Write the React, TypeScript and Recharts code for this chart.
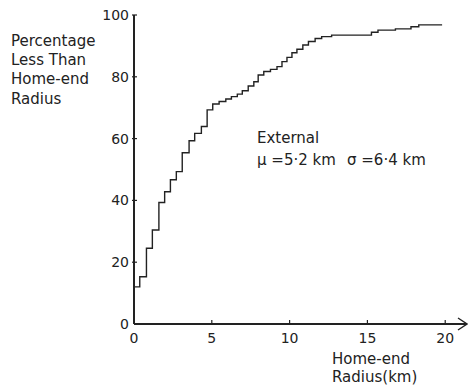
import { Line, LineChart, ReferenceDot, XAxis, YAxis } from "recharts";

// step points of the cumulative curve (km, %)
const radiusKm = [
  0, 0.37, 0.8, 1.18, 1.6, 1.97, 2.34, 2.72, 3.1, 3.54, 3.9, 4.33, 4.7, 5.06,
  5.47, 5.9, 6.26, 6.64, 6.96, 7.34, 7.7, 7.98, 8.34, 8.77, 9.19, 9.51, 9.83,
  10.15, 10.47, 10.85, 11.21, 11.64, 12.06, 12.7, 15.26, 15.68, 16.8, 17.8,
  18.3, 19.8,
];
const percentLess = [
  12, 15.3, 24.5, 30.4, 39.3, 42.8, 46.7, 49.3, 55.4, 59.3, 61.7, 63.9, 69.3,
  71.2, 72, 72.8, 73.6, 74.4, 75.5, 77, 78.4, 80.6, 81.7, 82.4, 83.3, 84.9,
  86.3, 87.8, 88.9, 90.3, 91.4, 92.4, 93, 93.5, 94.4, 95.1, 95.5, 96.2, 96.8,
  96.8,
];
const xTicks = [0, 5, 10, 15, 20];
const yTicks = [0, 20, 40, 60, 80, 100];

const data = radiusKm.map((r, i) => ({ r, p: percentLess[i] }));

const ink = "#222";
const font = "DejaVu Sans";

const XTick = ({ x, y, payload }: any) => (
  <g>
    {payload.value !== 0 && (
      <line x1={x} x2={x} y1={y - 4} y2={y} stroke={ink} strokeWidth={1.2} />
    )}
    <text x={x} y={y + 19} textAnchor="middle" fontSize={14} fill={ink} fontFamily={font}>
      {payload.value}
    </text>
  </g>
);

const YTick = ({ x, y, payload }: any) => (
  <g>
    {payload.value !== 0 && (
      <line x1={x - 2} x2={x + 3} y1={y} y2={y} stroke={ink} strokeWidth={1.2} />
    )}
    <text x={x - 5} y={y + 5} textAnchor="end" fontSize={14} fill={ink} fontFamily={font}>
      {payload.value}
    </text>
  </g>
);

const Arrow = ({ cx, cy }: any) => (
  <path
    d={`M${cx - 9},${cy - 6} L${cx},${cy} L${cx - 9},${cy + 6}`}
    fill="none"
    stroke={ink}
    strokeWidth={1.4}
  />
);

const txt = { fontSize: 15, fill: ink, fontFamily: font } as const;

export default function App() {
  return (
    <div style={{ position: "absolute", left: 0, top: 0, background: "#fff" }}>
      <LineChart
        width={468}
        height={386}
        data={data}
        margin={{ top: 15, right: 1, left: 94, bottom: 0 }}
      >
        <XAxis
          type="number"
          dataKey="r"
          domain={[0, 21.4]}
          ticks={xTicks}
          tick={<XTick />}
          tickSize={0}
          tickMargin={0}
          height={62}
          axisLine={{ stroke: ink, strokeWidth: 2 }}
          tickLine={false}
        />
        <YAxis
          type="number"
          domain={[0, 100]}
          ticks={yTicks}
          tick={<YTick />}
          tickSize={0}
          tickMargin={0}
          width={40}
          axisLine={{ stroke: ink, strokeWidth: 2 }}
          tickLine={false}
        />
        <ReferenceDot x={21.4} y={0} r={0} shape={<Arrow />} ifOverflow="visible" />
        <Line
          type="stepAfter"
          dataKey="p"
          stroke={ink}
          strokeWidth={1.4}
          dot={false}
          isAnimationActive={false}
        />
        <text {...txt} x={11} y={46}>Percentage</text>
        <text {...txt} x={11} y={65}>Less Than</text>
        <text {...txt} x={11} y={84}>Home-end</text>
        <text {...txt} x={11} y={104}>Radius</text>
        <text {...txt} x={257} y={143}>External</text>
        <text {...txt} x={257} y={165}>μ =5·2 km</text>
        <text {...txt} x={347} y={165}>σ =6·4 km</text>
        <text {...txt} x={332} y={364}>Home-end</text>
        <text {...txt} x={332} y={382}>Radius(km)</text>
      </LineChart>
    </div>
  );
}
